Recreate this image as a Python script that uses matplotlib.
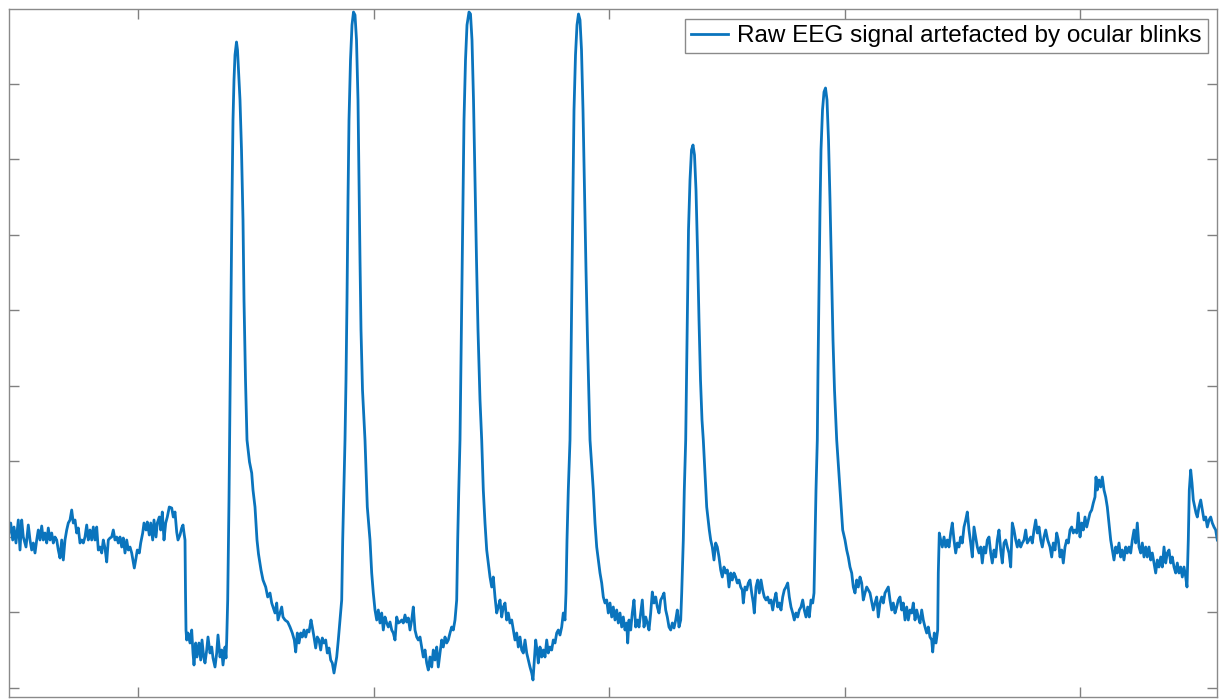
import matplotlib
matplotlib.use("Agg")
import matplotlib.pyplot as plt
import numpy as np

# EEG trace: (sample, amplitude) pairs, one list per stretch
pre = [(8.3, 75), (10.7, 89), (12.7, 72), (14, 85), (16, 69), (18.3, 92), (20, 62), (21.7, 92), (23.3, 75),
       (26, 65), (28.3, 87), (30, 72), (31.7, 62), (33.3, 69), (35, 59), (36.7, 72), (38.3, 82), (40, 72),
       (41.7, 86), (43.3, 72), (45, 79), (46.7, 69), (48.3, 84), (50, 72), (51.7, 79), (53.3, 69), (55, 75),
       (56.7, 72), (58.3, 62), (60, 54), (61.7, 72), (63.3, 52), (65, 72), (66.7, 82), (68.3, 89), (70, 92),
       (71.7, 102), (73.3, 89), (75, 92), (76.7, 79), (78.3, 84), (80, 69), (81.7, 72), (83.3, 69), (85, 75),
       (86.7, 87), (88.3, 72), (90, 82), (91.7, 72), (93.3, 85), (95, 72), (96.7, 85), (98.3, 62), (100, 65),
       (101.7, 59), (103.3, 72), (105, 64), (106.7, 50), (108.3, 72), (110, 74), (111.7, 75), (113.3, 82),
       (115, 72), (116.7, 75), (118.3, 69), (120, 75), (121.7, 65), (123.3, 74), (125, 59), (126.7, 72),
       (128.3, 62), (130, 65), (131.7, 59), (133.3, 50), (134.3, 44), (135.7, 52), (137.3, 62), (139.3, 59),
       (140.7, 69), (142.7, 79), (144, 89), (146, 82), (147.3, 90), (149.3, 77), (150.7, 89), (152.7, 72),
       (154, 92), (156, 75), (157.3, 89), (159.3, 95), (160.7, 82), (162.3, 100), (164, 72), (165.7, 89),
       (167.3, 95), (169.3, 105), (171.7, 104), (173.3, 95), (175, 100), (176.7, 80), (178, 72), (180, 77),
       (181.7, 84), (183, 87), (184, 79), (185, 72)]

blink1 = [(185.5, 20), (186, -18), (186.7, -28), (188, -21), (190, -31), (191.7, -18), (193, -41), (194, -53),
          (195.7, -31), (197, -45), (199, -31), (200.7, -48), (202, -28), (203.7, -45), (205, -51), (206.7, -38),
          (208, -25), (210, -41), (211.7, -35), (213, -46), (215, -55), (216.7, -41), (218, -23), (220, -45),
          (221.7, -38), (223, -53), (225, -35), (226, -46), (226.7, -28), (227.7, 12), (229, 112), (230, 212),
          (231, 312), (232, 412), (233, 492), (234, 532), (235, 557), (236.5, 570), (237.5, 562), (238.5, 542),
          (240, 512), (241.5, 462), (243, 392), (244, 312), (245.5, 232), (247, 172), (249.5, 150), (251.7, 139),
          (253, 122), (255, 105), (256, 88), (257, 72), (258.5, 58), (261, 42), (263, 32), (265.7, 25),
          (267.7, 15), (270, 19), (271.7, 9), (273, 5), (275, -1), (276.7, 9), (278, -8), (280, -1), (281.7, 5),
          (283, -5), (285, -8), (287.7, -10), (290, -15), (292.3, -21), (294.3, -28), (295.7, -40), (297.3, -21),
          (299, -31), (300.7, -21), (302.3, -25), (304, -18), (305.7, -25), (307.3, -18), (309, -20), (311, -8),
          (312.3, -15), (314, -25), (315.7, -36), (317.3, -25), (319, -28), (320.7, -38), (322.3, -26), (324, -31),
          (325.7, -28), (327.3, -41), (329, -36), (330.7, -48), (332.3, -51), (334, -61), (335, -55), (336.7, -45),
          (338.3, -28), (340, -8), (341.7, 12), (342.7, 72), (343.3, 99), (344.3, 139)]

blink2 = [(345, 172), (346, 232), (347, 312), (348, 412), (349, 492), (350.5, 552), (352, 587), (353.5, 600),
          (355, 597), (356.5, 572), (358, 512), (359, 432), (360, 352), (361, 282), (362.5, 222), (364, 192),
          (365, 172), (367.3, 105), (370, 72), (371.7, 39), (373.3, 19), (375, 2), (376.7, -8), (378.3, 2),
          (380, -11), (381.7, -1), (383.3, -18), (385, -5), (386.7, -11), (388.3, -15), (390, -10), (391.7, -18),
          (393.3, -21), (395, -28), (396.7, -5), (398.3, -11), (400, -10), (401.7, -8), (403.3, -11), (405, -3),
          (406.7, -10), (408.3, -6), (410, -18), (411.7, -8), (413.3, 5), (415, -18), (416.7, -25), (418.3, -28),
          (420, -25), (421.7, -35), (423.3, -45), (425, -38), (426.7, -51), (428.3, -58), (430, -45), (431.7, -55),
          (433.3, -38), (435, -48), (436.7, -35), (438.3, -55), (440, -41), (441.7, -28), (443.3, -35), (445, -25),
          (446.7, -31), (448.3, -28), (450, -21), (451.7, -15), (453.3, -18), (455, -8), (456.7, 12), (457.7, 72),
          (458.7, 119)]

blink3 = [(460, 172), (461, 252), (462, 332), (463, 412), (464, 492), (465.5, 552), (467, 587), (469, 600),
          (470.5, 598), (472, 572), (473.5, 512), (475, 432), (476.5, 352), (478, 282), (480, 212), (481.7, 172),
          (483.3, 122), (485, 89), (486.7, 62), (488.3, 49), (490, 35), (491.7, 25), (493.3, 35), (495, 15),
          (496.7, -1), (498.3, 5), (500, 12), (501.7, -5), (503.3, 5), (505, 9), (506.7, -8), (508.3, -1),
          (510, -11), (511.7, -8), (513.3, -18), (515, -28), (516.7, -21), (518.3, -35), (520, -25), (521.7, -38),
          (523.3, -41), (525, -28), (526.7, -41), (528.3, -48), (530, -55), (531.7, -61), (533, -68), (534.3, -48),
          (535.7, -28), (537, -38), (538.3, -51), (540, -35), (541.7, -45), (543.3, -38), (545, -45), (546.7, -28),
          (548.3, -41), (550, -35), (551.7, -38), (553.3, -28), (555, -31), (556.7, -21), (558.3, -18), (560, -23),
          (561.7, -15), (563.3, -1), (565, -8), (566, 19), (567, 72), (568.3, 122)]

blink4 = [(570, 172), (571, 252), (572, 342), (573, 422), (574, 502), (575.5, 557), (577, 587), (578.5, 598),
          (580, 592), (581.5, 562), (583, 502), (584.5, 422), (586, 342), (587.5, 272), (589, 212), (590, 172),
          (593.3, 122), (595, 89), (596.7, 65), (598.3, 52), (600, 39), (601.7, 29), (603.3, 15), (605, 9),
          (606.7, 12), (608.3, -1), (610, 9), (611.7, -5), (613.3, 5), (615, -8), (616.7, 2), (618.3, -11),
          (620, -1), (621.7, -15), (623.3, -5), (625, -18), (626.7, -11), (627.7, -31), (629, -8), (630.7, -18),
          (632.3, -1), (634, 12), (635.7, -15), (637.3, -8), (639, -15), (640.7, -1), (642.3, 12), (644, -15),
          (645.7, -5), (647.3, -11), (649, -18), (650.7, -1), (652.3, 20), (654, 9), (655.7, 15), (657.3, 5),
          (659, -1), (660.7, 12), (662.3, 15), (664, 19), (665.7, 2), (667.3, -5), (669, -15), (670.7, -18),
          (672.3, -11), (674, -16), (675.7, -8), (677.3, 2), (679, -15), (680.7, -8), (681.7, 19), (683.3, 72),
          (684.3, 122)]

blink5 = [(685.7, 172), (686.5, 232), (687.5, 312), (688.5, 382), (690, 432), (691.5, 462), (693, 467),
          (694.5, 457), (696, 422), (697.5, 362), (699, 292), (700.5, 232), (702, 192), (703.3, 172), (705, 139),
          (706.7, 105), (709.3, 82), (710.7, 72), (712.3, 65), (714, 52), (715.7, 69), (717.3, 65), (719, 55),
          (720.7, 42), (722.3, 35), (724, 45), (725.7, 39), (727.3, 42), (729, 25), (730.7, 39), (732.3, 32),
          (734, 39), (735.7, 35), (737.3, 29), (739, 32), (740.7, 25), (742.3, 22), (743.3, 9), (745, 25),
          (746.7, 22), (748.3, 29), (750, 32), (751.7, 19), (753.3, 9), (754.3, -1), (756, 25), (757.7, 32),
          (759.3, 19), (761, 32), (762.7, 22), (764.3, 15), (766, 12), (767.7, 15), (769.3, 9), (771, 12),
          (772.7, 2), (774.3, 12), (776, 19), (777.7, 5), (779.3, 9), (781, 2), (782.7, 15), (784.3, 22), (786, 25),
          (787.7, 29), (789.3, 15), (791, 5), (792.7, -1), (794.3, -8), (796, -1), (797.7, -5), (799.3, 2), (801, 5),
          (802.7, 12), (804.3, 2), (806, -5), (807.7, 5), (809.3, -5), (811, 12), (812.7, 9), (814, 19), (815, 72),
          (816, 122)]

blink6 = [(817.3, 172), (818, 242), (819, 322), (820, 402), (821, 462), (822.5, 502), (824, 520), (825.5, 524),
          (827, 512), (828.5, 472), (830, 412), (831.5, 342), (833, 272), (834.5, 222), (836, 187), (836.7, 172),
          (840, 122), (842.7, 82), (845, 72), (846.7, 62), (848.3, 55), (850, 45), (851.7, 39), (853.3, 25),
          (855, 19), (856.7, 32), (858.3, 25), (860, 35), (861.7, 29), (863.3, 12), (865, 19), (866.7, 25),
          (870, 19), (873.3, 2), (875, 9), (876.7, 15), (878.3, -5), (880, 9), (881.7, 15), (883.3, 9), (885, 19),
          (886.7, 22), (888.3, 25), (890, 12), (891.7, 2), (893.3, 9), (895, -1), (896.7, 5), (898.3, 12),
          (900, 15), (901.7, 2), (903.3, 9), (905, -8), (906.7, 5), (908.3, -8), (910, 2), (911.7, -1), (913.3, 9),
          (915, -8), (916.7, 2), (918.3, -5), (920, -11), (921.7, 2), (923.3, -8), (925, -15), (926.7, -21),
          (928.3, -15), (930, -25), (931.7, -28), (932.7, -40), (934.3, -21), (936, -31), (937.7, -18)]

post = [(938.3, 39), (939.3, 79), (940.7, 72), (942.3, 65), (944, 75), (945.7, 65), (947.3, 72), (949, 65),
        (950.7, 79), (952.3, 89), (954, 72), (955.7, 59), (957.3, 69), (959, 65), (960.7, 75), (962.3, 69),
        (964, 85), (965.7, 92), (967.3, 100), (969, 82), (970.7, 69), (972.3, 55), (974, 85), (975.7, 75),
        (977.3, 65), (979, 59), (980.7, 65), (982.3, 49), (984, 65), (985.7, 59), (987.3, 72), (989, 75),
        (990.7, 59), (992.3, 49), (994, 62), (995.7, 55), (997.3, 72), (999, 82), (1000.7, 62), (1002.3, 49),
        (1004, 69), (1005.7, 72), (1007.3, 65), (1009, 59), (1010.7, 45), (1012.3, 89), (1014, 82), (1015.7, 72),
        (1017.3, 65), (1019, 72), (1020.7, 65), (1022.3, 69), (1024, 72), (1025.7, 82), (1027.3, 69), (1029, 72),
        (1030.7, 75), (1032.3, 69), (1034, 82), (1035.7, 92), (1037.3, 79), (1039, 85), (1040.7, 72), (1042.3, 65),
        (1044, 75), (1045.7, 82), (1047.7, 72), (1050, 65), (1051.7, 55), (1053.3, 69), (1055, 62), (1056.7, 79),
        (1058.3, 72), (1060, 55), (1061.7, 62), (1063.3, 49), (1065, 65), (1066.7, 72), (1068.3, 69), (1070, 82),
        (1071.7, 85), (1073.3, 79), (1075, 82), (1076.7, 79), (1078.3, 99), (1080, 75), (1081.7, 89), (1083.3, 82),
        (1085, 95), (1086.7, 85), (1088.3, 92), (1090, 99), (1091.7, 102), (1093.3, 109), (1095, 115), (1096, 135),
        (1097.3, 122), (1099, 132), (1100.7, 125), (1102.3, 135), (1104, 122), (1105.7, 115), (1107.3, 105),
        (1109, 89), (1110.7, 72), (1112.3, 62), (1114, 52), (1115.7, 65), (1117.3, 59), (1119, 69), (1120.7, 55),
        (1122.3, 62), (1124, 52), (1125.7, 65), (1127.3, 59), (1129, 65), (1130.7, 59), (1132.3, 72), (1134, 82),
        (1135.7, 69), (1137.3, 89), (1139, 65), (1140.7, 59), (1142.3, 69), (1144, 55), (1145.7, 65), (1147.3, 55),
        (1149, 65), (1150.7, 52), (1152.3, 59), (1154, 49), (1155.7, 39), (1157.3, 52), (1159, 45), (1160.7, 55),
        (1162.3, 45), (1164, 65), (1165.7, 49), (1167.3, 59), (1169, 62), (1170.7, 49), (1172.3, 55), (1174, 45),
        (1175.7, 39), (1177.3, 49), (1179, 39), (1180.7, 45), (1182.3, 35), (1184, 45), (1185.7, 35), (1187, 25),
        (1188.3, 72), (1189.3, 122), (1190.7, 142), (1192, 129), (1193.3, 112), (1194.7, 105), (1196, 99),
        (1197.3, 95), (1199, 105), (1200.7, 112), (1202.3, 102), (1204, 92), (1205.7, 95), (1207.3, 85),
        (1209, 92), (1210.7, 95), (1212.3, 89), (1214, 85), (1215.7, 82), (1217.3, 72)]

label = 'Raw EEG signal artefacted by ocular blinks'

signal = np.array(pre + blink1 + blink2 + blink3 + blink4 + blink5 + blink6 + post)
t, eeg = signal[:, 0], signal[:, 1]

fig = plt.figure(figsize=(12.19, 6.99), dpi=100)
ax = fig.add_axes([9 / 1219, 2 / 699, 1208 / 1219, 688 / 699])

ax.plot(t, eeg, color='#0a74bd', linewidth=2.0, label=label,
        solid_joinstyle='round')

ax.set_xlim(9, 1217)
ax.set_ylim(-85, 603)
ax.set_xticks(138 + 235.5 * np.arange(5))
ax.set_yticks(75.5 * np.arange(-1, 8))
ax.tick_params(direction='in', top=True, right=True, length=7.5, width=1.0,
               color='#808080', labelleft=False, labelbottom=False)
for sp in ax.spines.values():
    sp.set_color('#8a8a8a')
    sp.set_linewidth(1.0)

leg = ax.legend(loc='upper right', bbox_to_anchor=(0.9925, 0.9855), borderaxespad=0,
                fancybox=False, framealpha=1, edgecolor='#8a8a8a',
                prop={'family': 'Liberation Sans', 'size': 17.5},
                handlelength=1.5, handletextpad=0.4, borderpad=0.25)
leg.get_frame().set_linewidth(1.0)

fig.savefig('out.png', dpi=100)
